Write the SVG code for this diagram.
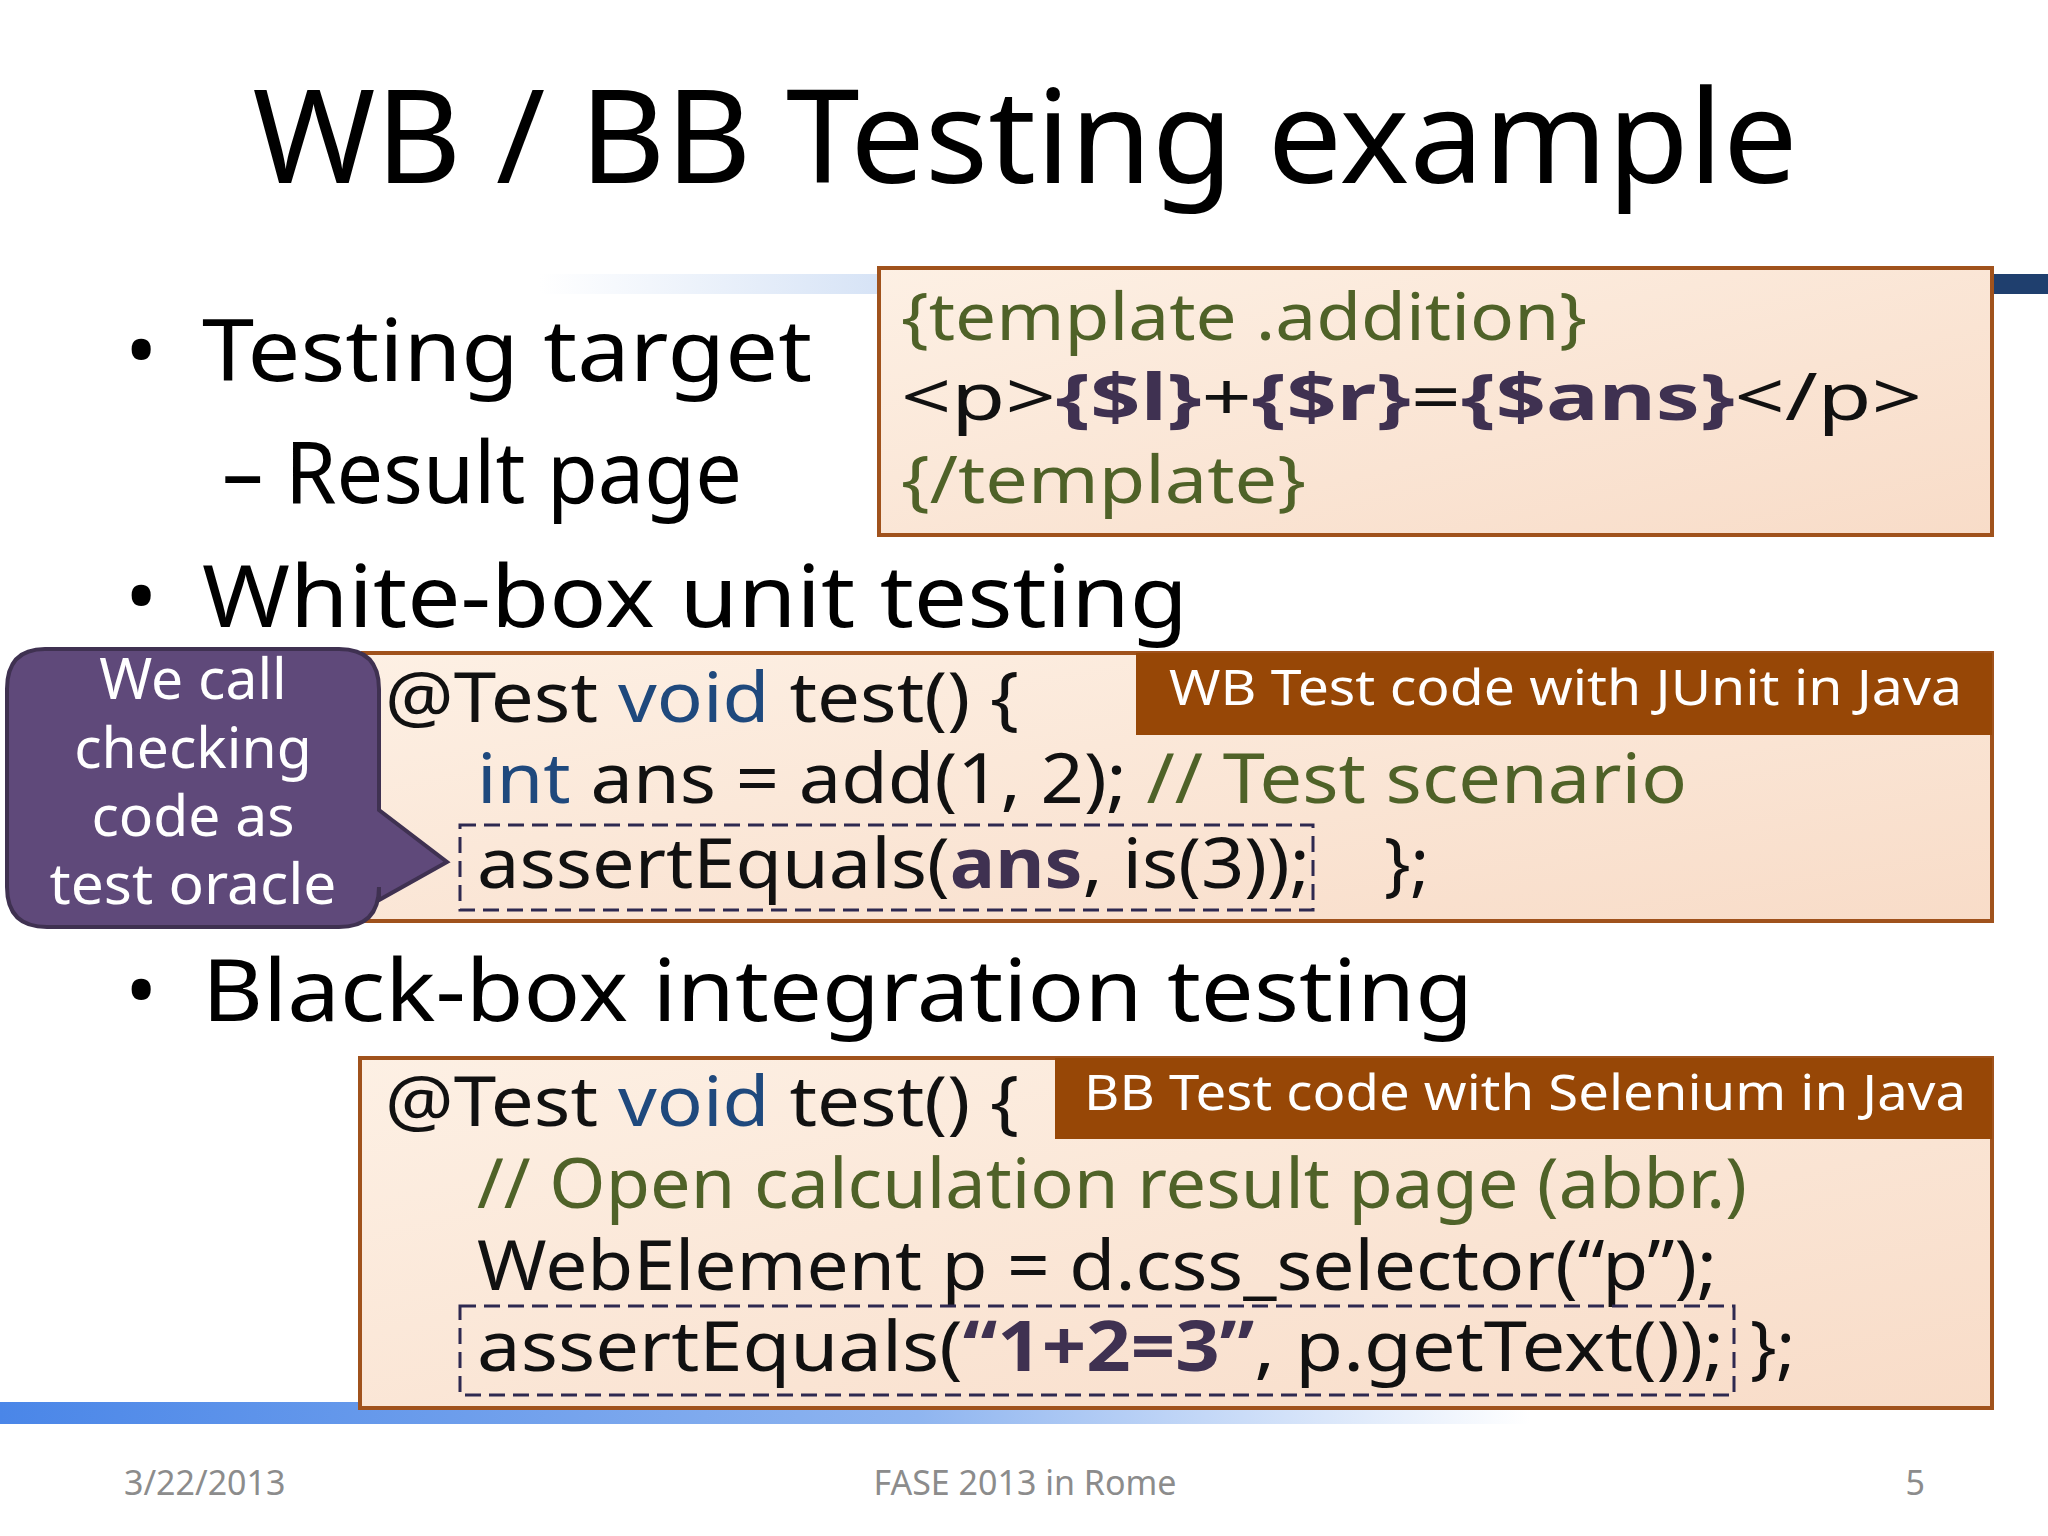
<svg xmlns="http://www.w3.org/2000/svg" width="2048" height="1536" viewBox="0 0 2048 1536">
<defs>
<linearGradient id="topline" x1="0" x2="1" y1="0" y2="0">
<stop offset="0" stop-color="#ffffff"/><stop offset="0.3" stop-color="#c9daf3"/><stop offset="1" stop-color="#5b8fd6"/>
</linearGradient>
<linearGradient id="botline" x1="0" x2="1" y1="0" y2="0">
<stop offset="0" stop-color="#4a86e8"/><stop offset="0.6" stop-color="#8fb5f0"/><stop offset="1" stop-color="#ffffff"/>
</linearGradient>
<linearGradient id="peach" x1="0" x2="1" y1="0" y2="1">
<stop offset="0" stop-color="#fdf0e4"/><stop offset="1" stop-color="#f8dcc8"/>
</linearGradient>
<style>
text{font-family:"Noto Sans","DejaVu Sans",sans-serif;}
.box{fill:url(#peach);stroke:#a0521c;stroke-width:4;}
.bar{fill:#974706;}
.lbl{fill:#ffffff;font-size:50px;}
.code{fill:#111;font-size:70px;}
.kw{fill:#1f497d;}
.cm{fill:#4f6228;}
.b{font-weight:bold;fill:#3f3151;}
.dash{fill:none;stroke:#2e2950;stroke-width:3;stroke-dasharray:16 8;}
.big{fill:#000;font-size:86px;}
.foot{fill:#8c8c8c;font-size:34px;}
</style>
</defs>
<rect width="2048" height="1536" fill="#ffffff"/>
<rect x="540" y="274" width="1508" height="20" fill="url(#topline)"/>
<rect x="1992" y="274" width="56" height="20" fill="#1f3f6e"/>
<rect x="0" y="1402" width="1530" height="22" fill="url(#botline)"/>
<text x="1025" y="183" font-size="130" text-anchor="middle" textLength="1545" lengthAdjust="spacingAndGlyphs" fill="#000">WB / BB Testing example</text>

<g id="bullets">
<text x="125" y="381" class="big">•</text>
<text x="202" y="381" class="big" textLength="610" lengthAdjust="spacingAndGlyphs">Testing target</text>
<text x="222" y="503" class="big" font-size="78" textLength="520" lengthAdjust="spacingAndGlyphs">– Result page</text>
<text x="125" y="627" class="big">•</text>
<text x="202" y="627" class="big" textLength="986" lengthAdjust="spacingAndGlyphs">White-box unit testing</text>
<text x="125" y="1021" class="big">•</text>
<text x="202" y="1021" class="big" textLength="1271" lengthAdjust="spacingAndGlyphs">Black-box integration testing</text>
</g>

<g id="template">
<rect class="box" x="879" y="268" width="1113" height="267"/>
<text x="901" y="340" font-size="65" class="cm" textLength="686" lengthAdjust="spacingAndGlyphs">{template .addition}</text>
<text x="901" y="420" font-size="65" fill="#111" textLength="1021" lengthAdjust="spacingAndGlyphs">&lt;p&gt;<tspan class="b">{$l}</tspan>+<tspan class="b">{$r}</tspan>=<tspan class="b">{$ans}</tspan>&lt;/p&gt;</text>
<text x="901" y="503" font-size="65" class="cm" textLength="405" lengthAdjust="spacingAndGlyphs">{/template}</text>
</g>

<g id="wb">
<rect class="box" x="363" y="653" width="1629" height="268"/>
<rect class="bar" x="1136" y="653" width="856" height="82"/>
<text x="1169" y="705" class="lbl" textLength="793" lengthAdjust="spacingAndGlyphs">WB Test code with JUnit in Java</text>
<text x="385" y="722" class="code" textLength="634" lengthAdjust="spacingAndGlyphs">@Test <tspan class="kw">void</tspan> test() {</text>
<text x="477" y="803" class="code" textLength="1210" lengthAdjust="spacingAndGlyphs"><tspan class="kw">int</tspan> ans = add(1, 2); <tspan class="cm">// Test scenario</tspan></text>
<rect class="dash" x="460" y="825" width="853" height="85"/>
<text x="477" y="888" class="code" textLength="833" lengthAdjust="spacingAndGlyphs">assertEquals(<tspan class="b">ans</tspan>, is(3));</text>
<text x="1384" y="888" class="code">};</text>
</g>

<g id="callout">
<path d="M45 649 H339 Q379 649 379 689 V810 L447 862 L379 900 V887 Q379 927 339 927 H47 Q7 927 7 887 V689 Q7 649 45 649 Z" fill="#5f497a" stroke="#3f3151" stroke-width="4"/>
<g fill="#fff" font-size="57" text-anchor="middle">
<text x="193" y="699">We call</text>
<text x="193" y="768">checking</text>
<text x="193" y="836">code as</text>
<text x="193" y="904" textLength="287" lengthAdjust="spacingAndGlyphs">test oracle</text>
</g>
</g>

<g id="bb">
<rect class="box" x="360" y="1058" width="1632" height="350"/>
<rect class="bar" x="1055" y="1058" width="937" height="81"/>
<text x="1084" y="1110" class="lbl" textLength="882" lengthAdjust="spacingAndGlyphs">BB Test code with Selenium in Java</text>
<text x="385" y="1126" class="code" textLength="634" lengthAdjust="spacingAndGlyphs">@Test <tspan class="kw">void</tspan> test() {</text>
<text x="477" y="1208" class="code cm" textLength="1270" lengthAdjust="spacingAndGlyphs">// Open calculation result page (abbr.)</text>
<text x="477" y="1290" class="code" textLength="1240" lengthAdjust="spacingAndGlyphs">WebElement p = d.css_selector(“p”);</text>
<rect class="dash" x="460" y="1306" width="1274" height="89"/>
<text x="477" y="1371" class="code" textLength="1247" lengthAdjust="spacingAndGlyphs">assertEquals(<tspan class="b">“1+2=3”</tspan>, p.getText());</text>
<text x="1750" y="1371" class="code">};</text>
</g>

<g id="footer">
<text x="124" y="1495" class="foot">3/22/2013</text>
<text x="1025" y="1495" class="foot" text-anchor="middle">FASE 2013 in Rome</text>
<text x="1925" y="1495" class="foot" text-anchor="end">5</text>
</g>
</svg>
